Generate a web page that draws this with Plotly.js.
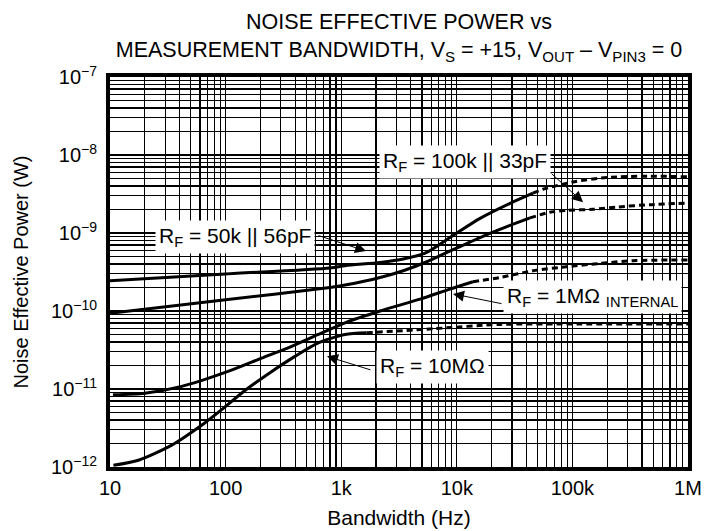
<!DOCTYPE html>
<html>
<head>
<meta charset="utf-8">
<script src="https://cdn.plot.ly/plotly-3.0.1.min.js"></script>
<style>html,body{margin:0;padding:0;background:#fff;}#chart{width:705px;height:531px;}</style>
</head>
<body>
<div id="chart"></div>
<script>
// ---- Data (Bandwidth in Hz, Noise Effective Power in W) ----
// Curve labelled 50k || 56pF (top)
const rf50kSolidHz = [10, 100, 800, 1080, 2170, 3440, 5500, 9270, 15900, 28900, 45600];
const rf50kSolidW  = [2.44e-10, 2.98e-10, 3.56e-10, 3.81e-10, 4.20e-10, 4.64e-10, 5.65e-10, 9.29e-10, 1.54e-9, 2.40e-9, 3.24e-9];
const rf50kDashHz  = [45600, 55700, 83000, 101000, 198000, 469000, 1000000];
const rf50kDashW   = [3.24e-9, 3.64e-9, 4.23e-9, 4.52e-9, 5.15e-9, 5.36e-9, 5.25e-9];

// Curve labelled 100k || 33pF
const rf100kSolidHz = [10, 100, 800, 1080, 2170, 3440, 5500, 9270, 15900, 28900, 43000];
const rf100kSolidW  = [9.33e-11, 1.39e-10, 2.0e-10, 2.15e-10, 2.69e-10, 3.28e-10, 4.28e-10, 6.12e-10, 8.75e-10, 1.25e-9, 1.56e-9];
const rf100kDashHz  = [43000, 64000, 89300, 151000, 242000, 469000, 1000000];
const rf100kDashW   = [1.56e-9, 1.85e-9, 1.95e-9, 2.01e-9, 2.15e-9, 2.31e-9, 2.42e-9];

// Curve labelled 1MΩ internal
const rf1MSolidHz = [10.6, 20, 41.7, 105, 205, 373, 634, 1080, 2170, 4810, 8730, 13800];
const rf1MSolidW  = [8.41e-12, 8.83e-12, 1.08e-11, 1.68e-11, 2.49e-11, 3.53e-11, 5.0e-11, 7.06e-11, 1.0e-10, 1.42e-10, 1.91e-10, 2.37e-10];
const rf1MDashHz  = [13800, 23700, 45600, 89300, 173000, 334000, 1000000];
const rf1MDashW   = [2.37e-10, 2.69e-10, 3.28e-10, 3.70e-10, 4.07e-10, 4.42e-10, 4.51e-10];

// Curve labelled 10MΩ
const rf10MSolidHz = [10.7, 17.6, 34.2, 66.4, 92.5, 147, 251, 398, 634, 1080, 1660];
const rf10MSolidW  = [1.05e-12, 1.22e-12, 1.91e-12, 3.70e-12, 5.43e-12, 9.57e-12, 1.68e-11, 2.62e-11, 3.90e-11, 5.0e-11, 5.25e-11];
const rf10MDashHz  = [1660, 6220, 23700, 116000, 1000000];
const rf10MDashW   = [5.25e-11, 5.92e-11, 6.73e-11, 6.79e-11, 6.79e-11];

// Tick labels
const xTickVals = [10, 100, 1000, 10000, 100000, 1000000];
const xTickText = ['10', '100', '1k', '10k', '100k', '1M'];
const yTickVals = [1e-12, 1e-11, 1e-10, 1e-9, 1e-8, 1e-7];
const yTickText = ['10<sup>−12</sup>', '10<sup>−11</sup>', '10<sup>−10</sup>', '10<sup>−9</sup>', '10<sup>−8</sup>', '10<sup>−7</sup>'];

// minor grid positions (2..9 within each decade)
function minorVals(decades) {
  const out = [];
  decades.forEach(d => { for (let m = 2; m <= 9; m++) out.push(m * d); });
  return out;
}
const xMinor = minorVals([10, 100, 1000, 10000, 100000]);
const yMinor = minorVals([1e-12, 1e-11, 1e-10, 1e-9, 1e-8]);

const LW = 3;
function solid(x, y) { return {x: x, y: y, type: 'scatter', mode: 'lines', line: {color: '#000', width: LW, shape: 'spline', smoothing: 0.7}, hoverinfo: 'skip', showlegend: false}; }
function dashed(x, y) { return {x: x, y: y, type: 'scatter', mode: 'lines', line: {color: '#000', width: LW, dash: '6px,4px', shape: 'spline', smoothing: 0.7}, hoverinfo: 'skip', showlegend: false}; }

const traces = [
  solid(rf50kSolidHz, rf50kSolidW), dashed(rf50kDashHz, rf50kDashW),
  solid(rf100kSolidHz, rf100kSolidW), dashed(rf100kDashHz, rf100kDashW),
  solid(rf1MSolidHz, rf1MSolidW), dashed(rf1MDashHz, rf1MDashW),
  solid(rf10MSolidHz, rf10MSolidW), dashed(rf10MDashHz, rf10MDashW)
];

const FONT = 'Liberation Sans, Arial, Helvetica, sans-serif';
const lblFont = {family: FONT, size: 21, color: '#000'};

function label(text, lx, ly) {
  return {text: text, x: lx, y: ly, xref: 'x', yref: 'y', showarrow: false, bgcolor: '#fff', borderpad: 3, font: lblFont};
}
function arrow(hx, hy, ax, ay) {
  return {text: '', x: hx, y: hy, xref: 'x', yref: 'y', showarrow: true, arrowhead: 2, arrowsize: 2.2, arrowwidth: 1, arrowcolor: '#000', ax: ax, ay: ay, standoff: 0};
}

const annotations = [
  label('R<sub>F</sub> = 100k || 33pF', 4.071, -8.09),
  arrow(5.092, -8.606, -33, -30),
  label('R<sub>F</sub> = 50k || 56pF', 2.081, -9.045),
  arrow(3.215, -9.232, -49, -16),
  label('R<sub>F</sub> = 1MΩ <sub>INTERNAL</sub>', 5.17, -9.82),
  arrow(3.967, -9.781, 50, 10),
  label('R<sub>F</sub> = 10MΩ', 3.794, -10.723),
  arrow(2.877, -10.581, 45, 14)
];

const layout = {
  width: 705, height: 531,
  margin: {l: 110, r: 17, t: 77, b: 64},
  paper_bgcolor: '#fff', plot_bgcolor: '#fff',
  font: {family: FONT, size: 20, color: '#000'},
  title: {
    text: 'NOISE EFFECTIVE POWER vs<br>MEASUREMENT BANDWIDTH, V<sub>S</sub> = +15, V<sub>OUT</sub> – V<sub>PIN3</sub> = 0',
    font: {family: FONT, size: 21.5, color: '#000'},
    x: 0.5, xref: 'paper', xanchor: 'center',
    y: 0.945, yref: 'container', yanchor: 'top'
  },
  xaxis: {
    type: 'log', range: [1, 6], autorange: false,
    tickvals: xTickVals, ticktext: xTickText, ticks: '',
    showgrid: true, gridcolor: '#000', gridwidth: 1.4,
    minor: {tickvals: xMinor, showgrid: true, gridcolor: '#000', gridwidth: 1.2, ticks: ''},
    showline: true, linecolor: '#000', linewidth: 4, mirror: true,
    zeroline: false,
    tickfont: {family: FONT, size: 20},
    title: {text: 'Bandwidth (Hz)', font: {family: FONT, size: 21}, standoff: 13}
  },
  yaxis: {
    type: 'log', range: [-12, -7], autorange: false,
    tickvals: yTickVals, ticktext: yTickText, ticks: '',
    ticklabelstandoff: 5,
    showgrid: true, gridcolor: '#000', gridwidth: 1.4,
    minor: {tickvals: yMinor, showgrid: true, gridcolor: '#000', gridwidth: 1.2, ticks: ''},
    showline: true, linecolor: '#000', linewidth: 4, mirror: true,
    zeroline: false,
    tickfont: {family: FONT, size: 20},
    title: {text: 'Noise Effective Power (W)', font: {family: FONT, size: 20}, standoff: 18}
  },
  annotations: annotations
};

Plotly.newPlot('chart', traces, layout, {staticPlot: true, displayModeBar: false});
</script>
</body>
</html>
